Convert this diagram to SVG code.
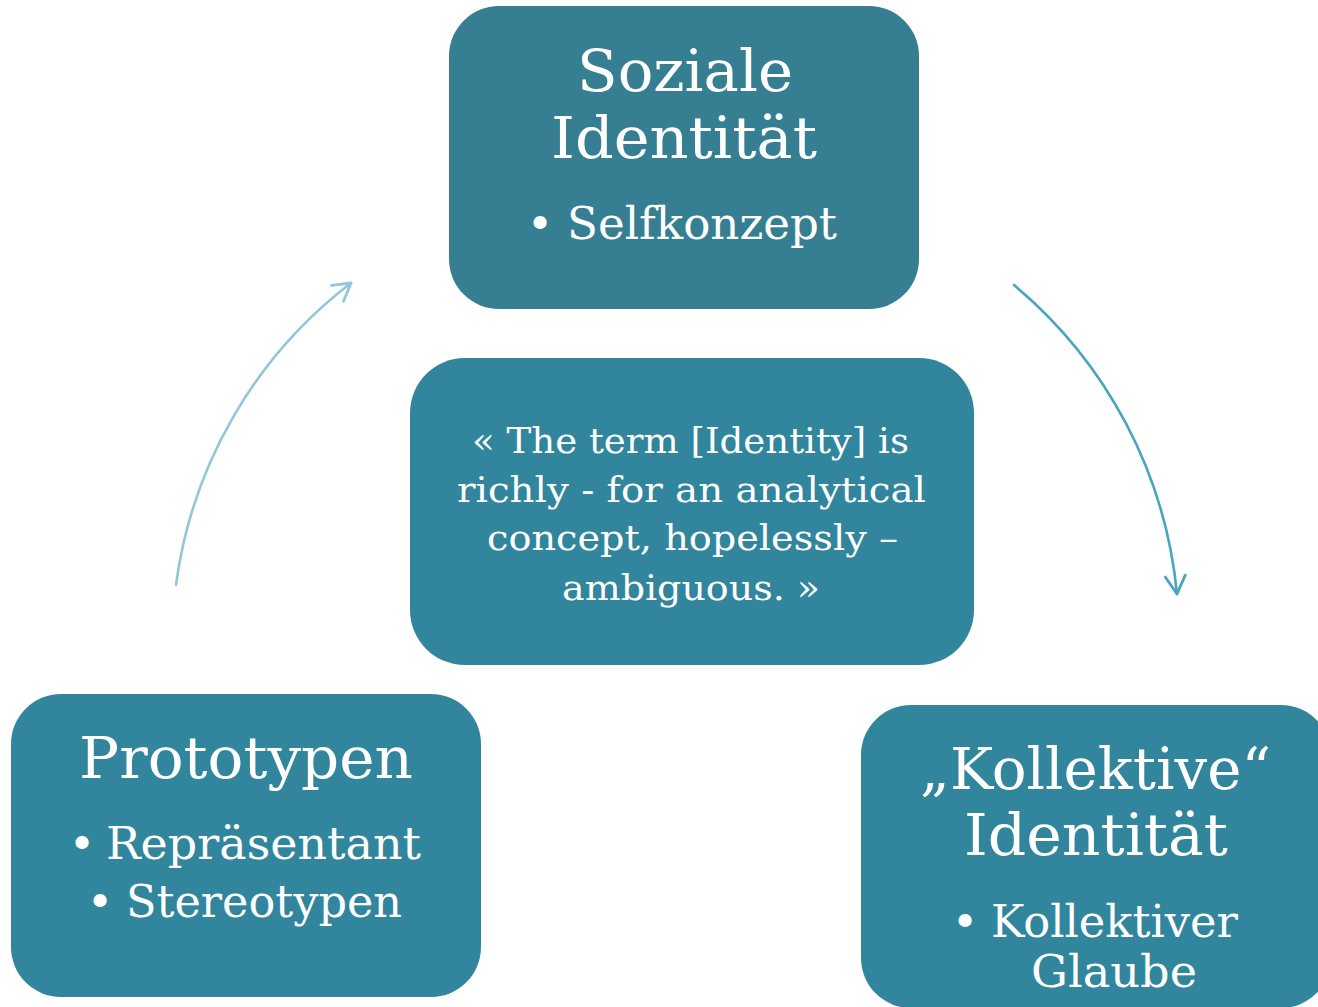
<svg xmlns="http://www.w3.org/2000/svg" width="1318" height="1007" viewBox="0 0 1318 1007">
<defs>
<style>
.box{fill:#31859c}
.top{fill:#367e91}
.t{font-family:"DejaVu Serif","Liberation Serif",serif;fill:#ffffff}
.h{font-size:58px}
.b{font-size:45px}
.q{font-size:36px}
.c{text-anchor:middle}
.conn{fill:none;stroke-width:2.6;stroke-linecap:round}
</style>
<marker id="ahL" markerUnits="userSpaceOnUse" markerWidth="40" markerHeight="40" viewBox="-20 -20 40 40" refX="0" refY="0" orient="auto">
<path d="M-17,-10 L0,0 L-17,10" fill="none" stroke="#93c6d6" stroke-width="2.8" stroke-linecap="round" stroke-linejoin="round"/>
</marker>
<marker id="ahR" markerUnits="userSpaceOnUse" markerWidth="40" markerHeight="40" viewBox="-20 -20 40 40" refX="0" refY="0" orient="auto">
<path d="M-18,-10 L0,0 L-18,10" fill="none" stroke="#4aa5bd" stroke-width="2.8" stroke-linecap="round" stroke-linejoin="round"/>
</marker>
</defs>
<rect width="1318" height="1007" fill="#ffffff"/>
<g id="connectors">
<path class="conn" d="M176,585 A455,455 0 0 1 351,283" stroke="#93c6d6" marker-end="url(#ahL)"/>
<path class="conn" d="M1014,285 A460,460 0 0 1 1177,594" stroke="#4aa5bd" marker-end="url(#ahR)"/>
</g>
<g id="node-soziale">
<rect class="top" x="449" y="6" width="470" height="303" rx="50"/>
<text class="t h c" x="685" y="91" textLength="216" lengthAdjust="spacingAndGlyphs">Soziale</text>
<text class="t h c" x="684" y="158" textLength="266" lengthAdjust="spacingAndGlyphs">Identität</text>
<text class="t b c" x="540" y="239">•</text>
<text class="t b" x="567" y="239" textLength="270" lengthAdjust="spacingAndGlyphs">Selfkonzept</text>
</g>
<g id="node-quote">
<rect class="box" x="410" y="358" width="564" height="307" rx="55"/>
<text class="t q c" x="690.5" y="453" textLength="437" lengthAdjust="spacingAndGlyphs">« The term [Identity] is</text>
<text class="t q c" x="691.5" y="502" textLength="469" lengthAdjust="spacingAndGlyphs">richly - for an analytical</text>
<text class="t q c" x="692.5" y="550" textLength="411" lengthAdjust="spacingAndGlyphs">concept, hopelessly –</text>
<text class="t q c" x="691" y="600" textLength="258" lengthAdjust="spacingAndGlyphs">ambiguous. »</text>
</g>
<g id="node-prototypen">
<rect class="box" x="11" y="694" width="470" height="303" rx="50"/>
<text class="t h c" x="246" y="778" textLength="334" lengthAdjust="spacingAndGlyphs">Prototypen</text>
<text class="t b c" x="82" y="859">•</text>
<text class="t b" x="106" y="859" textLength="315" lengthAdjust="spacingAndGlyphs">Repräsentant</text>
<text class="t b c" x="100" y="917">•</text>
<text class="t b" x="126" y="917" textLength="276" lengthAdjust="spacingAndGlyphs">Stereotypen</text>
</g>
<g id="node-kollektive">
<rect class="box" x="861" y="705" width="470" height="303" rx="50"/>
<text class="t h c" x="1095.5" y="789" textLength="351" lengthAdjust="spacingAndGlyphs">„Kollektive“</text>
<text class="t h c" x="1096" y="855" textLength="264" lengthAdjust="spacingAndGlyphs">Identität</text>
<text class="t b c" x="965" y="937">•</text>
<text class="t b" x="991" y="937" textLength="247" lengthAdjust="spacingAndGlyphs">Kollektiver</text>
<text class="t b c" x="1114" y="987" textLength="166" lengthAdjust="spacingAndGlyphs">Glaube</text>
</g>
</svg>
